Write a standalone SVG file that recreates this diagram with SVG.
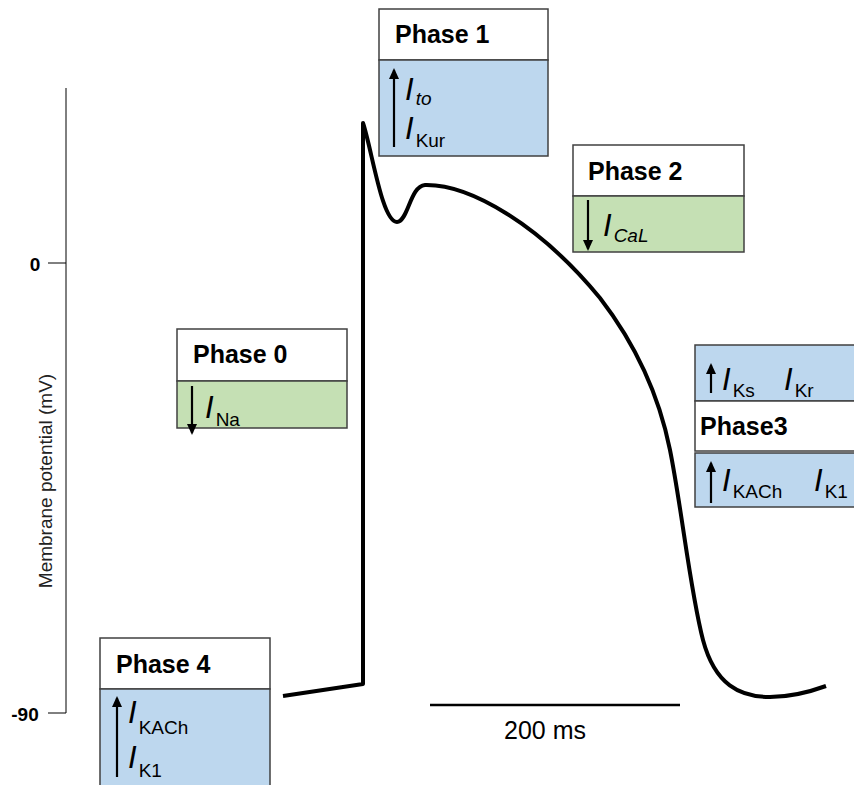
<svg xmlns="http://www.w3.org/2000/svg" width="854" height="785" viewBox="0 0 854 785">
<defs>
<marker id="ah" markerWidth="11" markerHeight="10" refX="9" refY="5" orient="auto" markerUnits="userSpaceOnUse"><path d="M0,0 L11,5 L0,10 z" fill="#000"/></marker>
<style>
.hdr{fill:#fff;stroke:#404040;stroke-width:1.5}
.blue{fill:#bdd7ee;stroke:#404040;stroke-width:1.5}
.green{fill:#c5e0b4;stroke:#404040;stroke-width:1.5}
.ph{font-family:"Liberation Sans",Arial,sans-serif;font-weight:bold;font-size:25px;fill:#000}
.cur{font-family:"Liberation Sans",Arial,sans-serif;font-size:31px;font-style:italic;fill:#000}
.sub{font-size:19px;font-style:normal}
.subi{font-size:19px;font-style:italic}
.arr{stroke:#000;stroke-width:2.2;fill:none}
.ax{stroke:#000;stroke-width:1;fill:none}
.axl{font-family:"Liberation Sans",Arial,sans-serif;font-weight:bold;font-size:19px;fill:#000}
</style>
</defs>
<rect width="854" height="785" fill="#fff"/>
<g id="axis">
<line class="ax" x1="66" y1="88" x2="66" y2="713"/>
<line class="ax" x1="48" y1="263" x2="66" y2="263"/>
<line class="ax" x1="48" y1="713" x2="66" y2="713"/>
<text class="axl" x="35" y="271" text-anchor="middle">0</text>
<text class="axl" x="25" y="721" text-anchor="middle">-90</text>
<text x="52" y="481" transform="rotate(-90 52 481)" text-anchor="middle" font-family="Liberation Sans,Arial,sans-serif" font-size="19" fill="#222">Membrane potential (mV)</text>
</g>
<g id="connectors">
<path d="M283,696 L363,684 L363,123 C372,150 382,222 397,222 C408,222 410,186 425,185 C470,184 540,225 600,298 C640,350 660,400 670,450 C682,510 690,590 703,640 C715,685 740,697 770,697 C795,697 815,690 826,686" fill="none" stroke="#000" stroke-width="4" stroke-linejoin="round"/>
<line x1="430" y1="705" x2="680" y2="705" stroke="#000" stroke-width="2.5"/>
<text x="545" y="739" text-anchor="middle" font-family="Liberation Sans,Arial,sans-serif" font-size="25" fill="#000">200 ms</text>
</g>
<g id="phase1">
<rect class="hdr" x="379" y="9" width="169" height="51"/>
<rect class="blue" x="379" y="60" width="169" height="96"/>
<text class="ph" x="395" y="43">Phase 1</text>
<line class="arr" x1="394" y1="147" x2="394" y2="70" marker-end="url(#ah)"/>
<text class="cur" x="405" y="100">I<tspan class="subi" dx="2" dy="5">to</tspan></text>
<text class="cur" x="405" y="139">I<tspan class="sub" dx="2" dy="8">Kur</tspan></text>
</g>
<g id="phase2">
<rect class="hdr" x="573" y="145" width="171" height="51"/>
<rect class="green" x="573" y="196" width="171" height="56"/>
<text class="ph" x="588" y="180">Phase 2</text>
<line class="arr" x1="588" y1="200" x2="588" y2="249" marker-end="url(#ah)"/>
<text class="cur" x="603" y="236">I<tspan class="subi" dx="2" dy="6">CaL</tspan></text>
</g>
<g id="phase0">
<rect class="hdr" x="177" y="329" width="170" height="52"/>
<rect class="green" x="177" y="381" width="170" height="47"/>
<text class="ph" x="193" y="363">Phase 0</text>
<line class="arr" x1="192" y1="386" x2="192" y2="433" marker-end="url(#ah)"/>
<text class="cur" x="205" y="418">I<tspan class="sub" dx="2" dy="8">Na</tspan></text>
</g>
<g id="phase3">
<rect class="blue" x="695" y="345" width="170" height="56"/>
<rect class="hdr" x="695" y="401" width="170" height="50"/>
<rect class="blue" x="695" y="453" width="170" height="54"/>
<line class="arr" x1="711" y1="393" x2="711" y2="365" marker-end="url(#ah)"/>
<text class="cur" x="722" y="390">I<tspan class="sub" dx="2" dy="7">Ks</tspan></text>
<text class="cur" x="784" y="390">I<tspan class="sub" dx="2" dy="7">Kr</tspan></text>
<text class="ph" x="700" y="435">Phase3</text>
<line class="arr" x1="711" y1="503" x2="711" y2="463" marker-end="url(#ah)"/>
<text class="cur" x="722" y="491">I<tspan class="sub" dx="2" dy="7">KACh</tspan></text>
<text class="cur" x="814" y="491">I<tspan class="sub" dx="2" dy="7">K1</tspan></text>
</g>
<g id="phase4">
<rect class="hdr" x="100" y="638" width="170" height="51"/>
<rect class="blue" x="100" y="689" width="170" height="110"/>
<text class="ph" x="116" y="673">Phase 4</text>
<line class="arr" x1="117" y1="777" x2="117" y2="698" marker-end="url(#ah)"/>
<text class="cur" x="128" y="723">I<tspan class="sub" dx="2" dy="11">KACh</tspan></text>
<text class="cur" x="128" y="768">I<tspan class="sub" dx="2" dy="9">K1</tspan></text>
</g>
</svg>
